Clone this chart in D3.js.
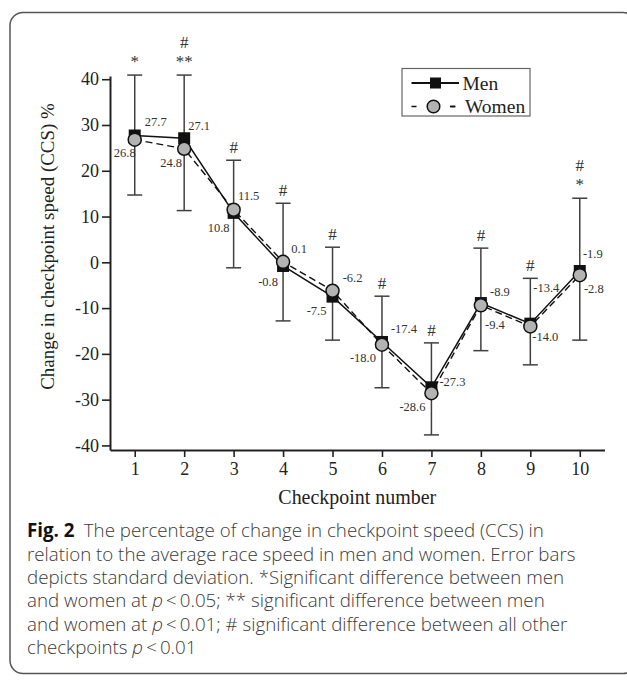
<!DOCTYPE html>
<html>
<head>
<meta charset="utf-8">
<script src="https://cdn.jsdelivr.net/npm/d3@7"></script>
<style>
  html, body { margin: 0; padding: 0; background: #fff; }
  svg { display: block; }
</style>
</head>
<body>
<svg id="chart" width="627" height="683"></svg>
<script>
// ---------------- data ----------------
const checkpoints = [1, 2, 3, 4, 5, 6, 7, 8, 9, 10];
const menValues   = [27.7, 27.1, 10.8, -0.8, -7.5, -17.4, -27.3, -8.9, -13.4, -1.9];
const womenValues = [26.8, 24.8, 11.5, 0.1, -6.2, -18.0, -28.6, -9.4, -14.0, -2.8];
const errUpper    = [40.9, 40.9, 22.3, 12.9, 3.3, -7.4, -17.6, 3.1, -3.5, 14.0];
const errLower    = [14.7, 11.3, -1.2, -12.8, -17.0, -27.4, -37.7, -19.3, -22.4, -17.0];
const genderSig     = ["*", "**", "", "", "", "", "", "", "", "*"];
const checkpointSig = ["", "#", "#", "#", "#", "#", "#", "#", "#", "#"];
const yTickValues = [40, 30, 20, 10, 0, -10, -20, -30, -40];
const seriesNames = ["Men", "Women"];
const yTitle = "Change in checkpoint speed (CCS) %";
const xTitle = "Checkpoint number";

// label placement (pixel offsets from each point, as in the original figure)
const menLabelOffsets   = [[21,-14],[15,-12],[-15,15],[-15,16],[-16,14],[22,-13],[21,-5],[19,-11],[16,-36],[13,-17]];
const womenLabelOffsets = [[-10,13],[-13,14],[15,-14],[16,-13],[20,-13],[-19,13],[-19,14],[14,20],[15,11],[14,14]];

// ---------------- layout ----------------
const svg = d3.select("#chart");
const serif = "'Liberation Serif', 'Times New Roman', serif";
const sans = "'Open Sans', Lato, 'Noto Sans', sans-serif";
const ink = "#222";

// frame
svg.append("rect")
  .attr("x", 10).attr("y", 12.5)
  .attr("width", 626).attr("height", 661)
  .attr("rx", 13).attr("ry", 13)
  .attr("fill", "none").attr("stroke", "#555").attr("stroke-width", 1.5);

const x = d3.scaleLinear().domain([0.5, 10.5]).range([110, 604.5]);
const y = d3.scaleLinear().domain([-41, 40.7]).range([450, 76]);

// axes
const fmt = d => (d < 0 ? "-" + Math.abs(d) : String(d));
const yAxis = svg.append("g").attr("transform", `translate(${x.range()[0]},0)`)
  .call(d3.axisLeft(y).tickValues(yTickValues).tickFormat(fmt).tickSize(8).tickSizeOuter(0).tickPadding(3));
const xAxis = svg.append("g").attr("transform", `translate(0,${y.range()[0]})`)
  .call(d3.axisBottom(x).tickValues(checkpoints).tickFormat(d => d).tickSize(7).tickSizeOuter(0).tickPadding(5));

[yAxis, xAxis].forEach(g => {
  g.select(".domain").attr("stroke", ink).attr("stroke-width", 2);
  g.selectAll(".tick line").attr("stroke", ink).attr("stroke-width", 1.6);
  g.selectAll(".tick text").attr("fill", ink).style("font-family", serif).style("font-size", "18px");
});

// helper: fit font-size to a target width
function fitText(sel, target) {
  const base = parseFloat(sel.style("font-size"));
  const w = sel.node().getComputedTextLength();
  sel.style("font-size", (base * target / w).toFixed(2) + "px");
}

// axis titles
const yt = svg.append("text")
  .attr("transform", `translate(54,${246.5}) rotate(-90)`)
  .attr("text-anchor", "middle")
  .style("font-family", serif).style("font-size", "19px").attr("fill", ink)
  .text(yTitle);
fitText(yt, 287);

const xt = svg.append("text")
  .attr("x", (x.range()[0] + x.range()[1]) / 2).attr("y", 504)
  .attr("text-anchor", "middle")
  .style("font-family", serif).style("font-size", "19px").attr("fill", ink)
  .text(xTitle);
fitText(xt, 158);

// error bars
const capW = 7.5;
const eb = svg.append("g").attr("stroke", "#404040").attr("stroke-width", 1.5).attr("fill", "none");
checkpoints.forEach((c, i) => {
  const cx = x(c);
  eb.append("line").attr("x1", cx).attr("x2", cx).attr("y1", y(errUpper[i])).attr("y2", y(errLower[i]));
  eb.append("line").attr("x1", cx - capW).attr("x2", cx + capW).attr("y1", y(errUpper[i])).attr("y2", y(errUpper[i]));
  eb.append("line").attr("x1", cx - capW).attr("x2", cx + capW).attr("y1", y(errLower[i])).attr("y2", y(errLower[i]));
});

// lines
const line = d3.line().x((d, i) => x(checkpoints[i])).y(d => y(d));
svg.append("path").datum(womenValues).attr("d", line)
  .attr("fill", "none").attr("stroke", "#111").attr("stroke-width", 1.4).attr("stroke-dasharray", "7,4");
svg.append("path").datum(menValues).attr("d", line)
  .attr("fill", "none").attr("stroke", "#111").attr("stroke-width", 1.5);

// markers
const sq = 12;
svg.append("g").selectAll("rect").data(menValues).join("rect")
  .attr("x", (d, i) => x(checkpoints[i]) - sq / 2)
  .attr("y", d => y(d) - sq / 2)
  .attr("width", sq).attr("height", sq).attr("fill", "#111");
svg.append("g").selectAll("circle").data(womenValues).join("circle")
  .attr("cx", (d, i) => x(checkpoints[i]))
  .attr("cy", d => y(d))
  .attr("r", 6.5).attr("fill", "#b3b3b3").attr("stroke", "#111").attr("stroke-width", 1.5);

// value labels
const lbl = svg.append("g").style("font-family", serif).style("font-size", "12.5px").attr("fill", "#333")
  .attr("text-anchor", "middle").attr("dominant-baseline", "central");
menValues.forEach((v, i) => {
  lbl.append("text").attr("x", x(checkpoints[i]) + menLabelOffsets[i][0]).attr("y", y(v) + menLabelOffsets[i][1])
    .text(v.toFixed(1));
});
womenValues.forEach((v, i) => {
  lbl.append("text").attr("x", x(checkpoints[i]) + womenLabelOffsets[i][0]).attr("y", y(v) + womenLabelOffsets[i][1])
    .text(v.toFixed(1));
});

// significance markers
const sig = svg.append("g").style("font-family", serif).style("font-size", "17px").attr("fill", "#333")
  .attr("text-anchor", "middle");
checkpoints.forEach((c, i) => {
  const top = y(errUpper[i]);
  let base = top - 7;
  if (genderSig[i]) {
    sig.append("text").attr("x", x(c)).attr("y", top - 8).text(genderSig[i]);
    base = top - 27;
  }
  if (checkpointSig[i]) {
    sig.append("text").attr("x", x(c)).attr("y", base).text(checkpointSig[i]);
  }
});

// legend
const lg = svg.append("g");
lg.append("rect").attr("x", 402).attr("y", 68.5).attr("width", 128).attr("height", 47.5)
  .attr("fill", "#fff").attr("stroke", "#666").attr("stroke-width", 1.2);
lg.append("line").attr("x1", 411.5).attr("x2", 459).attr("y1", 83).attr("y2", 83)
  .attr("stroke", "#111").attr("stroke-width", 2);
lg.append("rect").attr("x", 435.5 - 5.5).attr("y", 83 - 5.5).attr("width", 11).attr("height", 11).attr("fill", "#111");
lg.append("line").attr("x1", 411.5).attr("x2", 456).attr("y1", 106.5).attr("y2", 106.5)
  .attr("stroke", "#111").attr("stroke-width", 1.6).attr("stroke-dasharray", "5,34");
lg.append("circle").attr("cx", 433.5).attr("cy", 106.5).attr("r", 6.3)
  .attr("fill", "#b3b3b3").attr("stroke", "#111").attr("stroke-width", 1.5);
lg.append("line").attr("x1", 450).attr("x2", 455).attr("y1", 106.5).attr("y2", 106.5)
  .attr("stroke", "#111").attr("stroke-width", 1.6);
lg.append("text").attr("x", 462.5).attr("y", 89.5).style("font-family", serif).style("font-size", "19.5px")
  .attr("fill", ink).text(seriesNames[0]);
lg.append("text").attr("x", 465).attr("y", 113).style("font-family", serif).style("font-size", "19.5px")
  .attr("fill", ink).text(seriesNames[1]);

// caption
const capLines = [
  [{t: "Fig. 2", b: true}, {t: "\u2002The percentage of change in checkpoint speed (CCS) in"}],
  [{t: "relation to the average race speed in men and women. Error bars"}],
  [{t: "depicts standard deviation. *Significant difference between men"}],
  [{t: "and women at "}, {t: "p", i: true}, {t: "\u2009<\u20090.05; ** significant difference between men"}],
  [{t: "and women at "}, {t: "p", i: true}, {t: "\u2009<\u20090.01; # significant difference between all other"}],
  [{t: "checkpoints "}, {t: "p", i: true}, {t: "\u2009<\u20090.01"}]
];
const cap = svg.append("g").style("font-family", sans).style("font-size", "19px")
  .style("font-weight", 300).attr("fill", "#3a3a3a");
const capTexts = capLines.map((parts, li) => {
  const t = cap.append("text").attr("x", 27).attr("y", 537.3 + li * 23.3);
  parts.forEach(p => {
    const ts = t.append("tspan").text(p.t);
    if (p.b) ts.style("font-weight", "bold").attr("fill", "#111");
    if (p.i) ts.style("font-style", "italic");
  });
  return t;
});
// scale caption font so line 2 spans the original width
const w2 = capTexts[1].node().getComputedTextLength();
cap.style("font-size", (19 * 549 / w2).toFixed(2) + "px");
</script>
</body>
</html>
